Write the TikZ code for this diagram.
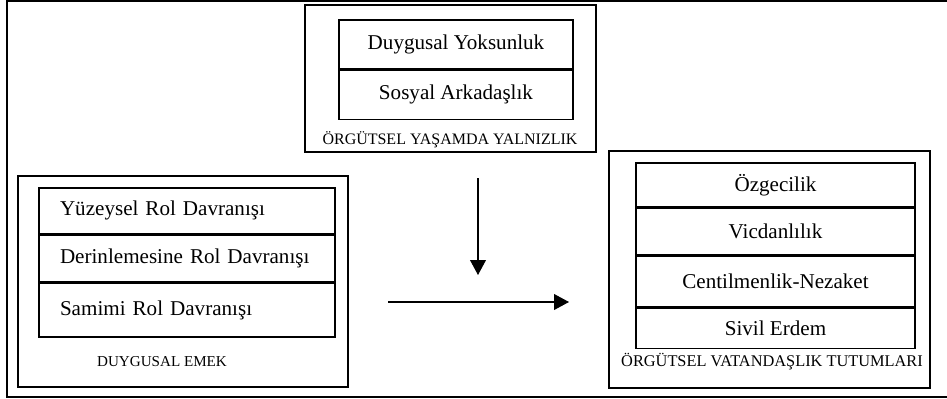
\documentclass[tikz,border=0pt]{standalone}
\usepackage{fontspec}
\setmainfont{Liberation Serif}
\usetikzlibrary{positioning,arrows.meta}
\tikzset{
    grpBox/.style={
        rectangle,
        draw,
        line width=0.9pt,
        inner sep=0pt
    },
    rowBox/.style={
        rectangle,
        draw,
        line width=0.9pt,
        inner sep=0pt,
        align=center,
        font=\fontsize{12}{14}\selectfont
    },
    rowLeft/.style={rowBox, align=left, inner xsep=0.42cm, text width=5.08cm},
    grpLabel/.style={font=\fontsize{#1}{10}\selectfont, inner sep=0pt},
    grpLabel/.default=8.6,
    flowArrow/.style={-{Triangle[length=8.5pt,width=9pt]}, line width=0.6pt}
}

\begin{document}
\begin{tikzpicture}[x=0.02cm, y=-0.02cm]
\useasboundingbox (0,0) rectangle (947,399);
\draw[line width=1.2pt] (7,1) rectangle (952,397);

% Yalnizlik
\node[grpBox, minimum width=5.82cm, minimum height=2.94cm] (yalniz) at (450.5,78.5) {};
\node[rowBox, minimum width=4.68cm, minimum height=0.98cm, anchor=north] (yoksun) at (456,19) {Duygusal Yoksunluk};
\node[rowBox, minimum width=4.68cm, minimum height=0.98cm, below=0pt of yoksun] (sosyal) {Sosyal Arkadaşlık};
\node[grpLabel=9.1] (yalnizLbl) at (450,140) {ÖRGÜTSEL YAŞAMDA YALNIZLIK};

% Duygusal emek
\node[grpBox, minimum width=6.6cm, minimum height=4.22cm] (emek) at (183,281.5) {};
\node[rowLeft, minimum height=0.92cm, anchor=north] (yuzey) at (187,187) {Yüzeysel Rol Davranışı};
\node[rowLeft, minimum height=0.92cm, below=0pt of yuzey] (derin) {Derinlemesine Rol Davranışı};
\node[rowLeft, minimum height=1.08cm, below=0pt of derin] (samimi) {Samimi Rol Davranışı};
\node[grpLabel] (emekLbl) at (162,362) {DUYGUSAL EMEK};

% Vatandaslik
\node[grpBox, minimum width=6.42cm, minimum height=4.74cm] (vatan) at (769.5,269.5) {};
\node[rowBox, minimum width=5.58cm, minimum height=0.88cm, anchor=north] (ozgec) at (775.5,162) {Özgecilik};
\node[rowBox, minimum width=5.58cm, minimum height=0.92cm, below=0pt of ozgec] (vicdan) {Vicdanlılık};
\node[rowBox, minimum width=5.58cm, minimum height=1.02cm, below=0pt of vicdan] (centil) {Centilmenlik-Nezaket};
\node[rowBox, minimum width=5.58cm, minimum height=0.80cm, below=0pt of centil] (sivil) {Sivil Erdem};
\node[grpLabel=9.3] (vatanLbl) at (772,362) {ÖRGÜTSEL VATANDAŞLIK TUTUMLARI};

% arrows
\coordinate (modStart) at (478,178);
\coordinate (modEnd) at (478,275);
\coordinate (mainStart) at (388,302);
\coordinate (mainEnd) at (569,302);
\draw[flowArrow] (modStart) -- (modEnd);
\draw[flowArrow] (mainStart) -- (mainEnd);
\end{tikzpicture}
\end{document}
